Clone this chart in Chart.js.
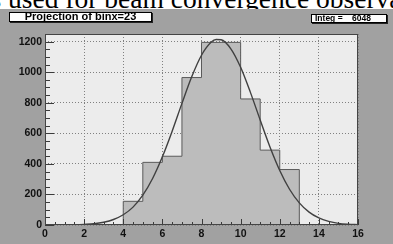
<!DOCTYPE html>
<html>
<head>
<meta charset="utf-8">
<script src="https://cdn.jsdelivr.net/npm/chart.js@4.4.1/dist/chart.umd.min.js"></script>
<style>
  html, body { margin: 0; padding: 0; background: #a1a1a1; }
  #wrap { position: relative; width: 393px; height: 244px; background: #a1a1a1; overflow: hidden; }
  #wrap canvas { position: absolute; left: 0; top: 0; }
  #strip { position: absolute; left: 0; top: 0; width: 393px; height: 9px; background: #fff; overflow: hidden; }
  #strip span { position: absolute; left: -9.5px; top: -15px; font: 27.5px/1 "Liberation Serif", "Times New Roman", serif; color: #000; white-space: nowrap; }
  .pave { position: absolute; background: #fdfdfd; border: 1px solid #000; box-shadow: 1px 1px 0 #222;
          font-family: "Liberation Sans", Arial, sans-serif; font-weight: bold; color: #000;
          white-space: nowrap; box-sizing: border-box; }
  #title { left: 9px; top: 12px; width: 143px; height: 10px; font-size: 11px; line-height: 7.5px; text-align: center; }
  #integ { left: 311px; top: 14px; width: 76px; height: 9px; font-size: 8.5px; line-height: 7px; padding-left: 3px; }
  #integ b { position: absolute; left: 40px; top: 0; }
</style>
</head>
<body>
<div id="wrap">
  <canvas id="c" width="393" height="244"></canvas>
  <div id="strip"><span>s used for beam convergence observations</span></div>
  <div class="pave" id="title">Projection of binx=23</div>
  <div class="pave" id="integ">Integ =<b>6048</b></div>
</div>
<script>
// --- histogram (projection), bin width 1 ---
const binLowEdges = [4, 5, 6, 7, 8, 9, 10, 11, 12];
const binCounts = [155, 410, 450, 965, 1195, 1195, 825, 490, 363];

// --- gaussian fit curve ---
const fitX = [0, 0.5, 1, 1.5, 2, 2.5, 3, 3.5, 4, 4.5, 5, 5.5, 6, 6.5, 7, 7.5, 8, 8.5, 8.75, 9,
              9.5, 10, 10.5, 11, 11.5, 12, 12.5, 13, 13.5, 14, 14.5, 15, 15.5, 16];
const fitY = [0, 0.2, 0.6, 1.5, 4, 8, 18, 36, 67, 117, 195, 304, 446, 614, 796, 970, 1111, 1197, 1214, 1212,
              1153, 1032, 868, 687, 511, 357, 234, 145, 84, 46, 24, 11, 5, 2];

// --- axes ---
const xTicks = [0, 2, 4, 6, 8, 10, 12, 14, 16];
const yTicks = [0, 200, 400, 600, 800, 1000, 1200];

// stepped outline: each point is (low edge, content)
const histPoints = [{ x: 0, y: 0 }];
binLowEdges.forEach((lo, i) => histPoints.push({ x: lo, y: binCounts[i] }));
histPoints.push({ x: binLowEdges[binLowEdges.length - 1] + 1, y: 0 });
histPoints.push({ x: 16, y: 0 });

const fitPoints = fitX.map((x, i) => ({ x: x, y: fitY[i] }));

// ROOT style frame: light pad, ticks inside the frame
const rootFrame = {
  id: 'rootFrame',
  beforeDraw(chart) {
    const { ctx, chartArea: a } = chart;
    ctx.save();
    ctx.fillStyle = '#ececec';
    ctx.fillRect(a.left, a.top, a.right - a.left, a.bottom - a.top);
    ctx.restore();
  },
  afterDraw(chart) {
    const { ctx, chartArea: a, scales: { x, y } } = chart;
    ctx.save();
    ctx.strokeStyle = '#3a3a3a';
    ctx.lineWidth = 1;
    ctx.beginPath();
    for (let v = x.min; v <= x.max + 1e-9; v += 0.5) {
      const px = Math.round(x.getPixelForValue(v)) + 0.5;
      const len = (v % 2 === 0) ? 6 : 3;
      ctx.moveTo(px, a.bottom);
      ctx.lineTo(px, a.bottom - len);
    }
    for (let v = y.min; v <= y.max + 1e-9; v += 50) {
      const py = Math.round(y.getPixelForValue(v)) + 0.5;
      const len = (v % 200 === 0) ? 9 : 5;
      ctx.moveTo(a.left, py);
      ctx.lineTo(a.left + len, py);
    }
    ctx.stroke();
    ctx.strokeStyle = '#444';
    ctx.strokeRect(a.left + 0.5, a.top + 0.5, a.right - a.left - 1, a.bottom - a.top - 1);
    ctx.restore();
  }
};

const tickFont = { family: '"Liberation Sans", Arial, sans-serif', size: 10.5, weight: 'bold' };

new Chart(document.getElementById('c'), {
  type: 'line',
  data: {
    datasets: [
      {
        label: 'gaus',
        data: fitPoints,
        borderColor: '#404040',
        borderWidth: 1.4,
        pointRadius: 0,
        cubicInterpolationMode: 'monotone',
        fill: false,
        order: 1
      },
      {
        label: 'projection',
        data: histPoints,
        stepped: true,
        fill: 'origin',
        backgroundColor: '#bcbcbc',
        borderColor: '#5a5a5a',
        borderWidth: 1,
        pointRadius: 0,
        order: 2
      }
    ]
  },
  options: {
    responsive: false,
    animation: false,
    devicePixelRatio: 1,
    layout: { padding: { top: 34, right: 35, left: 0, bottom: 0 } },
    plugins: {
      legend: { display: false },
      tooltip: { enabled: false },
      title: { display: false }
    },
    scales: {
      x: {
        type: 'linear',
        min: 0,
        max: 16,
        z: 1,
        grid: { color: '#808080', lineWidth: 1, drawTicks: false },
        border: { display: false, dash: [1, 2] },
        ticks: { color: '#111', font: tickFont, padding: 3, autoSkip: false, maxRotation: 0,
                 callback: v => String(v) },
        afterBuildTicks: s => { s.ticks = xTicks.map(v => ({ value: v })); },
        afterFit: s => { s.height = 19; }
      },
      y: {
        type: 'linear',
        min: 0,
        max: 1250,
        z: 1,
        grid: { color: '#808080', lineWidth: 1, drawTicks: false },
        border: { display: false, dash: [1, 2] },
        ticks: { color: '#111', font: tickFont, padding: 3, includeBounds: false,
                 callback: v => String(v) },
        afterBuildTicks: s => { s.ticks = yTicks.map(v => ({ value: v })); },
        afterFit: s => { s.width = 45; }
      }
    }
  },
  plugins: [rootFrame]
});
</script>
</body>
</html>
